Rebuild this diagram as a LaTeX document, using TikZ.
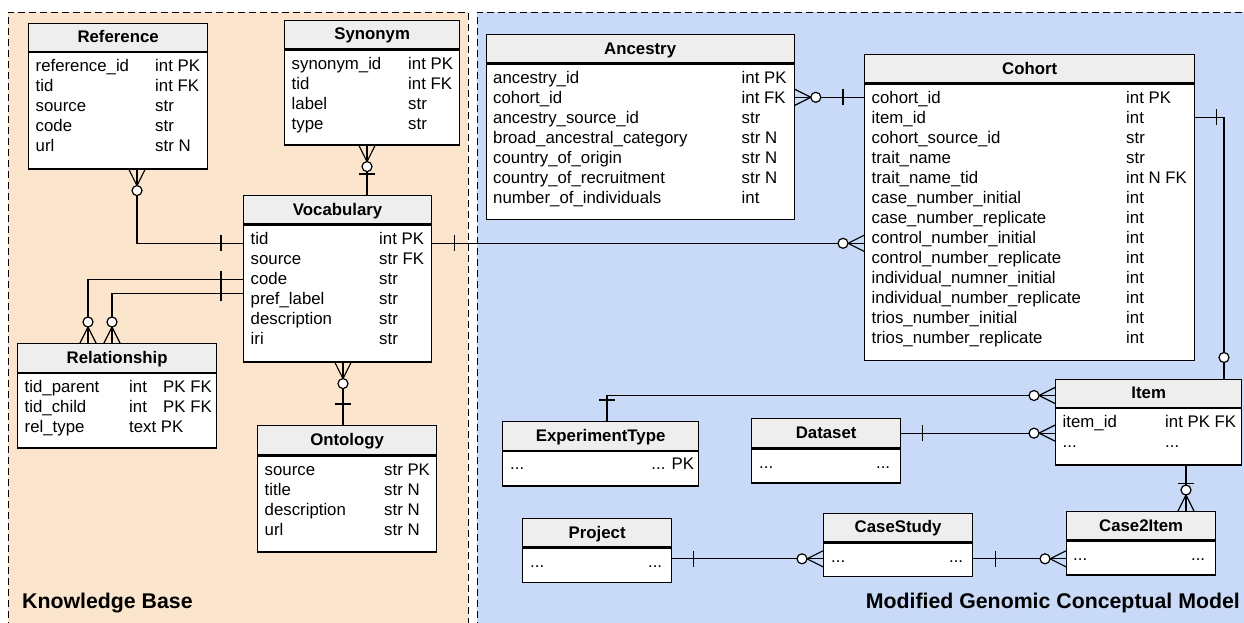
\documentclass[tikz,border=0pt]{standalone}
\usepackage{fontspec}
\setmainfont{Liberation Sans}
\usetikzlibrary{calc}
\definecolor{kbfill}{HTML}{FCE5CD}
\definecolor{gcmfill}{HTML}{C9DAF8}
\definecolor{hdrgray}{HTML}{EEEEEE}
\tikzset{
  hdrbox/.style={draw=black, line width=1.3pt, fill=hdrgray, inner sep=0pt,
    text height=11.5pt, text depth=0.5pt, font=\fontsize{16.8}{20}\selectfont\bfseries},
  bodybox/.style={draw=black, line width=1.3pt, fill=white, inner sep=0pt},
  rowtxt/.style={inner sep=0pt, anchor=base west, font=\fontsize{16.8}{20}\selectfont},
  rowtxtr/.style={inner sep=0pt, anchor=base east, font=\fontsize{16.8}{20}\selectfont},
  conn/.style={line width=1.2pt, draw=black},
  region/.style={dashed, dash pattern=on 7pt off 4pt, line width=1pt, draw=black},
  biglabel/.style={inner sep=0pt, font=\fontsize{21.3}{24}\selectfont\bfseries}
}
\newcommand{\entity}[6]{%
  \node[hdrbox, minimum width=#3pt, minimum height=#4pt, anchor=north west] (#1H) at (#2) {#6};
  \node[bodybox, minimum width=#3pt, minimum height=#5pt, anchor=north west] (#1B) at (#1H.south west) {};
}
\newcommand{\rows}[3]{%
  \foreach \a/\b [count=\i] in {#3} {
    \node[rowtxt] (#1a\i) at ($(#1B.north west)+(7.5,{20*\i})$) {\a};
    \node[rowtxt] (#1b\i) at ($(#1B.north west)+(#2,{20*\i})$) {\b};
  }
}
\newcommand{\crowend}[2]{%
  \begin{scope}[shift={(#1)}, rotate=#2]
    \draw[conn] (0,-8) -- (16,0) -- (0,8);
    \draw[conn, fill=white] (21,0) circle[radius=5pt];
  \end{scope}}
\newcommand{\circend}[2]{%
  \begin{scope}[shift={(#1)}, rotate=#2]
    \draw[conn, fill=white] (21,0) circle[radius=5pt];
  \end{scope}}
\newcommand{\barend}[3]{%
  \begin{scope}[shift={(#1)}, rotate=#2]
    \draw[conn] (#3,-8) -- (#3,8);
  \end{scope}}
\begin{document}
\begin{tikzpicture}[x=1pt, y=-1pt]
\useasboundingbox (0,0) rectangle (1244,622);
% regions
\fill[kbfill] (8,12) rectangle (468,640);
\draw[region] (8,640) -- (8,12) -- (468,12) -- (468,640);
\fill[gcmfill] (477,12) rectangle (1260,640);
\draw[region] (477,640) -- (477,12) -- (1260,12);

% ---------- Knowledge base ----------
\entity{ref}{28,22.5}{179}{28}{116.5}{Reference}
\rows{ref}{127}{reference\_id/int PK, tid/int FK, source/str, code/str, url/str N}

\entity{syn}{284,19.5}{175}{28.5}{95}{Synonym}
\rows{syn}{124}{synonym\_id/int PK, tid/int FK, label/str, type/str}

\entity{voc}{243,195}{188}{28}{137}{Vocabulary}
\rows{voc}{136}{tid/int PK, source/str FK, code/str, pref\_label/str, description/str, iri/str}

\entity{rel}{17,343}{199}{28.5}{74.5}{Relationship}
\rows{rel}{112}{tid\_parent/\makebox[34pt][l]{int}PK FK, tid\_child/\makebox[34pt][l]{int}PK FK, rel\_type/text PK}

\entity{ont}{257,425}{179}{29}{96}{Ontology}
\rows{ont}{127}{source/str PK, title/str N, description/str N, url/str N}

% ---------- Genomic conceptual model ----------
\entity{anc}{485.5,34}{308}{28}{155.5}{Ancestry}
\rows{anc}{256}{ancestry\_id/int PK, cohort\_id/int FK, ancestry\_source\_id/str, broad\_ancestral\_category/str N, country\_of\_origin/str N, country\_of\_recruitment/str N, number\_of\_individuals/int}

\entity{coh}{864,54}{330}{28}{276.5}{Cohort}
\rows{coh}{262}{cohort\_id/int PK, item\_id/int, cohort\_source\_id/str, trait\_name/str, trait\_name\_tid/int N FK, case\_number\_initial/int, case\_number\_replicate/int, control\_number\_initial/int, control\_number\_replicate/int, individual\_numner\_initial/int, individual\_number\_replicate/int, trios\_number\_initial/int, trios\_number\_replicate/int}

\entity{item}{1055,378.5}{186}{28}{56.5}{Item}
\rows{item}{110}{item\_id/int PK FK}
\node[rowtxt] (itema2) at ($(itemB.north west)+(7.5,40)$) {...};
\node[rowtxt] (itemb2) at ($(itemB.north west)+(110,40)$) {...};

\entity{exp}{502,421}{196}{28.5}{34.5}{ExperimentType}
\node[rowtxt] (expa1) at ($(expB.north west)+(8,19)$) {...};
\node[rowtxtr] (expb1) at ($(expB.north east)+(-5,19)$) {... PK};

\entity{ds}{751,418}{149}{29}{34}{Dataset}
\node[rowtxt] (dsa1) at ($(dsB.north west)+(8,20)$) {...};
\node[rowtxtr] (dsb1) at ($(dsB.north east)+(-11,20)$) {...};

\entity{proj}{522,518}{149}{28}{34.5}{Project}
\node[rowtxt] (proja1) at ($(projB.north west)+(8,20)$) {...};
\node[rowtxtr] (projb1) at ($(projB.north east)+(-10,20)$) {...};

\entity{cs}{823,512.5}{149}{28.5}{33.5}{CaseStudy}
\node[rowtxt] (csa1) at ($(csB.north west)+(8,20)$) {...};
\node[rowtxtr] (csb1) at ($(csB.north east)+(-10,20)$) {...};

\entity{c2i}{1066,511}{149}{28}{34}{Case2Item}
\node[rowtxt] (c2ia1) at ($(c2iB.north west)+(7,20)$) {...};
\node[rowtxtr] (c2ib1) at ($(c2iB.north east)+(-11,20)$) {...};

% ---------- connectors ----------
% Reference - Vocabulary
\coordinate (rv1) at ($(refB.south west)+(109,0)$);
\coordinate (rv2) at ($(vocB.north west)+(0,19)$);
\draw[conn] (rv1) |- (rv2);
\crowend{rv1}{270}
\barend{rv2}{180}{22}
% Synonym - Vocabulary
\coordinate (sv1) at ($(synB.south west)+(83,0)$);
\coordinate (sv2) at (sv1 |- vocH.north);
\draw[conn] (sv1) -- (sv2);
\crowend{sv1}{270}
\barend{sv2}{90}{21}
% Vocabulary - Relationship (two)
\coordinate (vr1) at ($(vocB.north west)+(0,55)$);
\coordinate (vr2) at ($(vocB.north west)+(0,69)$);
\coordinate (rr1) at ($(relH.north west)+(71,0)$);
\coordinate (rr2) at ($(relH.north west)+(95,0)$);
\draw[conn] (vr1) -| (rr1);
\draw[conn] (vr2) -| (rr2);
\barend{vr1}{180}{22}
\barend{vr2}{180}{22}
\crowend{rr1}{90}
\crowend{rr2}{90}
% Vocabulary - Ontology
\coordinate (vo1) at ($(vocB.south west)+(100,0)$);
\coordinate (vo2) at (vo1 |- ontH.north);
\draw[conn] (vo1) -- (vo2);
\crowend{vo1}{270}
\barend{vo2}{90}{21}
% Ancestry - Cohort
\coordinate (ac1) at ($(ancB.north east)+(0,34)$);
\coordinate (ac2) at (ac1 -| cohB.west);
\draw[conn] (ac1) -- (ac2);
\crowend{ac1}{0}
\barend{ac2}{180}{21}
% Vocabulary - Cohort
\coordinate (vc1) at ($(vocB.north east)+(0,19)$);
\coordinate (vc2) at (vc1 -| cohB.west);
\draw[conn] (vc1) -- (vc2);
\barend{vc1}{0}{22}
\crowend{vc2}{180}
% Cohort - Item
\coordinate (ci1) at ($(cohB.north east)+(0,34)$);
\coordinate (ci2) at ($(itemH.north west)+(169,0)$);
\draw[conn] (ci1) -| (ci2);
\barend{ci1}{0}{21}
\circend{ci2}{90}
% ExperimentType - Item
\coordinate (ei1) at ($(expH.north west)+(105,0)$);
\coordinate (ei2) at ($(itemH.north west)+(0,17)$);
\draw[conn] (ei1) |- (ei2);
\barend{ei1}{90}{21}
\crowend{ei2}{180}
% Dataset - Item
\coordinate (di1) at (dsH.east);
\coordinate (di2) at (di1 -| itemB.west);
\draw[conn] (di1) -- (di2);
\barend{di1}{0}{21}
\crowend{di2}{180}
% Project - CaseStudy
\coordinate (pc1) at ($(projB.north east)+(0,11.5)$);
\coordinate (pc2) at (pc1 -| csB.west);
\draw[conn] (pc1) -- (pc2);
\barend{pc1}{0}{21}
\crowend{pc2}{180}
% CaseStudy - Case2Item
\coordinate (cc1) at ($(csB.north east)+(0,16.5)$);
\coordinate (cc2) at (cc1 -| c2iB.west);
\draw[conn] (cc1) -- (cc2);
\barend{cc1}{0}{22}
\crowend{cc2}{180}
% Item - Case2Item
\coordinate (ic1) at ($(itemB.south west)+(131,0)$);
\coordinate (ic2) at (ic1 |- c2iH.north);
\draw[conn] (ic1) -- (ic2);
\barend{ic1}{270}{18}
\crowend{ic2}{90}

% labels
\node[biglabel, anchor=base west] (kblabel) at (22,608) {Knowledge Base};
\node[biglabel, anchor=base east] (gcmlabel) at (1240,608) {Modified Genomic Conceptual Model};
\end{tikzpicture}
\end{document}
